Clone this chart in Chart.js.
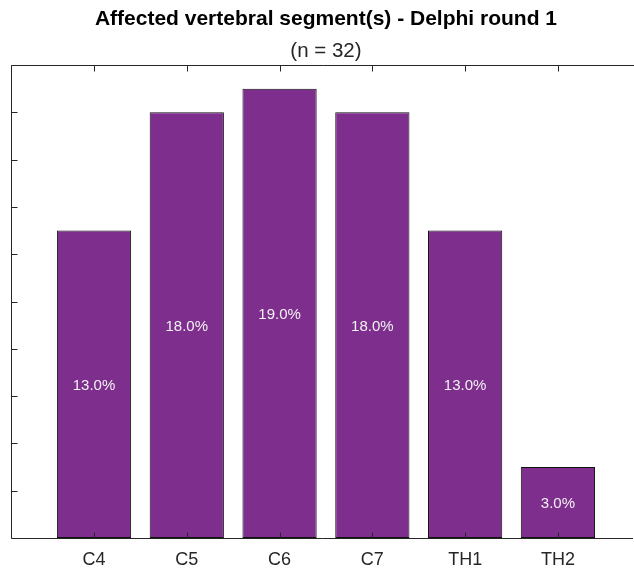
<!DOCTYPE html>
<html>
<head>
<meta charset="utf-8">
<script src="https://cdn.jsdelivr.net/npm/chart.js@4.4.0/dist/chart.umd.min.js"></script>
<style>
html,body{margin:0;padding:0;background:#fff;overflow:hidden;}
#wrap{width:634px;height:569px;position:relative;}
</style>
</head>
<body>
<div id="wrap"><canvas id="c" width="634" height="569"></canvas></div>
<script>
const categories = ["C4", "C5", "C6", "C7", "TH1", "TH2"];
const percentValues = [13, 18, 19, 18, 13, 3];
const yTickValues = [0, 2, 4, 6, 8, 10, 12, 14, 16, 18, 20];
const titleText = "Affected vertebral segment(s) - Delphi round 1";
const subtitleText = "(n = 32)";

const FONT = "Arial, 'Liberation Sans', sans-serif";
const AXIS = "#262626";

const framePlugin = {
  id: 'frame',
  afterDatasetsDraw(chart) {
    const ctx = chart.ctx;
    const a = chart.chartArea;
    const xs = chart.scales.x, ys = chart.scales.y;
    ctx.save();
    // bar labels
    const meta = chart.getDatasetMeta(0);
    ctx.fillStyle = '#f2f2f2';
    ctx.font = '15px ' + FONT;
    ctx.textAlign = 'center';
    ctx.textBaseline = 'middle';
    meta.data.forEach((bar, i) => {
      const v = percentValues[i];
      const yMid = (bar.y + bar.base) / 2 + 1.5;
      ctx.fillText(v.toFixed(1) + '%', bar.x, yMid);
    });
    // frame
    ctx.strokeStyle = AXIS;
    ctx.lineWidth = 1;
    const L = Math.round(a.left) + 0.5;
    const T = Math.round(a.top) + 0.5;
    const B = Math.round(a.bottom) + 0.5;
    const R = a.right + 2;
    ctx.beginPath();
    ctx.moveTo(R, T); ctx.lineTo(L, T); ctx.lineTo(L, B); ctx.lineTo(R - 3, B);
    ctx.stroke();
    // y ticks (inward)
    ctx.beginPath();
    yTickValues.forEach(v => {
      const y = Math.round(ys.getPixelForValue(v)) + 0.5;
      ctx.moveTo(L, y); ctx.lineTo(L + 6, y);
    });
    // x ticks top & bottom (inward)
    categories.forEach((c, i) => {
      const x = Math.round(xs.getPixelForValue(i + 1)) + 0.5;
      ctx.moveTo(x, B); ctx.lineTo(x, B - 6);
      ctx.moveTo(x, T); ctx.lineTo(x, T + 6);
    });
    ctx.stroke();
    // titles, centred over the full axes
    const cx = xs.getPixelForValue(3.5);
    ctx.fillStyle = '#000';
    ctx.textAlign = 'center';
    ctx.textBaseline = 'alphabetic';
    ctx.font = 'bold 21px ' + FONT;
    ctx.fillText(titleText, cx, 25);
    ctx.fillStyle = AXIS;
    ctx.font = '20.5px ' + FONT;
    ctx.fillText(subtitleText, cx, 56.5);
    ctx.restore();
  }
};

new Chart(document.getElementById('c'), {
  type: 'bar',
  data: {
    datasets: [{
      data: percentValues.map((v, i) => ({ x: i + 1, y: v })),
      backgroundColor: '#7E2F8E',
      borderColor: '#111111',
      borderWidth: 1,
      borderSkipped: false,
      barPercentage: 0.8,
      categoryPercentage: 1.0
    }]
  },
  options: {
    responsive: false,
    animation: false,
    devicePixelRatio: 1,
    layout: { padding: { left: 10.5, top: 65, right: 0, bottom: 0 } },
    plugins: { legend: { display: false }, tooltip: { enabled: false }, title: { display: false } },
    scales: {
      x: {
        type: 'linear',
        offset: false,
        min: 0.1,
        max: 6.82,
        afterBuildTicks(scale) { scale.ticks = categories.map((c, i) => ({ value: i + 1 })); },
        afterFit(scale) { scale.height = 31; },
        grid: { display: false },
        border: { display: false },
        ticks: {
          color: AXIS,
          font: { family: FONT, size: 18 },
          padding: 3,
          maxRotation: 0,
          autoSkip: false,
          callback: (v) => categories[Math.round(v) - 1] || ''
        }
      },
      y: {
        min: 0,
        max: 20,
        afterFit(scale) { scale.width = 0; },
        grid: { display: false },
        border: { display: false },
        ticks: { display: false }
      }
    }
  },
  plugins: [framePlugin]
});
</script>
</body>
</html>
